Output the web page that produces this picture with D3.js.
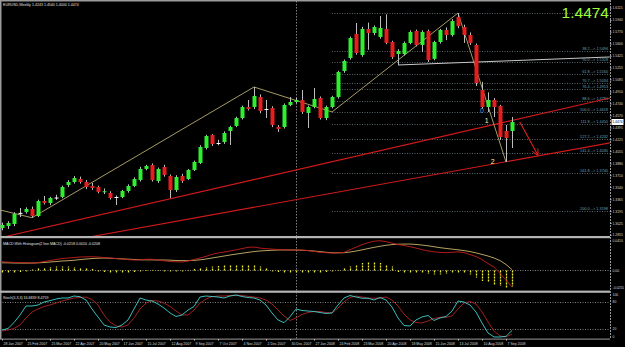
<!DOCTYPE html>
<html>
<head>
<meta charset="utf-8">
<script src="https://cdnjs.cloudflare.com/ajax/libs/d3/7.8.5/d3.min.js"></script>
<style>
body{margin:0;background:#000;overflow:hidden}
text{font-family:"Liberation Sans",Arial,sans-serif}
</style>
</head>
<body>
<script>
// EURUSD weekly, 28 Jan 2007 .. 14 Sep 2008, one bar per week

var opens =[1.2953,1.2982,1.3010,1.3170,1.3183,1.3226,1.3125,1.3340,1.3312,1.3390,1.3398,1.3570,1.3613,1.3656,1.3613,1.3556,1.3541,1.3470,1.3455,1.3398,
1.3398,1.3484,1.3556,1.3642,1.3800,1.3857,1.3627,1.3828,1.3699,1.3498,1.3699,1.3656,1.3785,1.3886,1.4101,1.4287,1.4173,1.4187,1.4345,1.4417,
1.4531,1.4689,1.4689,1.4833,1.4661,1.4675,1.4402,1.4402,1.4718,1.4761,1.4790,1.4603,1.4689,1.4818,1.4531,1.4689,1.4833,1.5206,1.5392,1.5737,
1.5435,1.5809,1.5751,1.5694,1.5809,1.5622,1.5450,1.5450,1.5608,1.5780,1.5579,1.5780,1.5380,1.5622,1.5794,1.5722,1.5981,1.5837,1.5722,1.5579,
1.4933,1.4689,1.4790,1.4704,1.4345,1.4345];
var highs =[1.3030,1.3050,1.3180,1.3240,1.3250,1.3260,1.3360,1.3412,1.3400,1.3430,1.3560,1.3640,1.3700,1.3690,1.3640,1.3600,1.3560,1.3520,1.3480,1.3420,
1.3500,1.3580,1.3680,1.3830,1.3860,1.3880,1.3820,1.3860,1.3720,1.3710,1.3730,1.3800,1.3920,1.4140,1.4290,1.4300,1.4220,1.4340,1.4420,1.4550,
1.4710,1.4790,1.4976,1.4870,1.4790,1.4700,1.4430,1.4740,1.4833,1.4820,1.4933,1.4710,1.4962,1.4840,1.4710,1.4850,1.5210,1.5370,1.5700,1.5895,
1.5840,1.5900,1.5860,1.5995,1.6019,1.5640,1.5520,1.5630,1.5790,1.5800,1.5790,1.5800,1.5640,1.5810,1.5830,1.5950,1.6038,1.5870,1.5760,1.5600,
1.5050,1.4900,1.4818,1.4720,1.4431,1.4546];
var lows  =[1.2920,1.2940,1.2980,1.3110,1.3160,1.3100,1.3110,1.3290,1.3280,1.3355,1.3380,1.3540,1.3590,1.3590,1.3510,1.3500,1.3450,1.3440,1.3360,1.3282,
1.3380,1.3460,1.3540,1.3620,1.3780,1.3620,1.3600,1.3690,1.3383,1.3470,1.3600,1.3640,1.3770,1.3870,1.4080,1.4130,1.4140,1.4160,1.4144,1.4400,
1.4510,1.4640,1.4660,1.4600,1.4531,1.4400,1.4331,1.4380,1.4700,1.4740,1.4590,1.4388,1.4670,1.4510,1.4500,1.4670,1.4810,1.5180,1.5370,1.5440,
1.5410,1.5510,1.5720,1.5670,1.5590,1.5380,1.5292,1.5430,1.5590,1.5560,1.5478,1.5335,1.5360,1.5600,1.5650,1.5700,1.5820,1.5608,1.5580,1.4990,
1.4660,1.4618,1.4545,1.4216,1.3900,1.4101];
var closes=[1.2996,1.3025,1.3154,1.3170,1.3226,1.3125,1.3340,1.3312,1.3383,1.3390,1.3541,1.3613,1.3670,1.3613,1.3541,1.3527,1.3470,1.3480,1.3383,1.3398,
1.3484,1.3556,1.3656,1.3800,1.3843,1.3642,1.3800,1.3714,1.3498,1.3685,1.3627,1.3785,1.3900,1.4115,1.4273,1.4158,1.4173,1.4316,1.4402,1.4531,
1.4689,1.4661,1.4847,1.4632,1.4661,1.4431,1.4374,1.4718,1.4761,1.4790,1.4618,1.4689,1.4804,1.4531,1.4689,1.4833,1.5192,1.5349,1.5679,1.5464,
1.5809,1.5751,1.5837,1.5823,1.5608,1.5407,1.5493,1.5608,1.5766,1.5579,1.5766,1.5364,1.5622,1.5794,1.5722,1.5923,1.5852,1.5722,1.5608,1.5034,
1.4689,1.4790,1.4689,1.4259,1.4244,1.4474];

var macdMain=[0.0113,0.0109,0.0105,0.0103,0.0102,0.0096,0.0103,0.0116,0.0129,0.0142,0.0155,0.0162,0.0168,0.0175,0.0177,0.0179,0.0175,0.0168,0.0162,0.0155,
0.0149,0.0141,0.0136,0.0138,0.0145,0.0146,0.0136,0.0126,0.0117,0.0113,0.0110,0.0123,0.0142,0.0162,0.0184,0.0210,0.0227,0.0240,0.0253,0.0268,
0.0285,0.0301,0.0305,0.0292,0.0284,0.0279,0.0272,0.0270,0.0266,0.0266,0.0266,0.0259,0.0248,0.0237,0.0231,0.0227,0.0229,0.0235,0.0271,0.0303,
0.0336,0.0362,0.0381,0.0387,0.0376,0.0357,0.0338,0.0325,0.0309,0.0292,0.0272,0.0255,0.0243,0.0235,0.0232,0.0237,0.0242,0.0233,0.0207,0.0181,
0.0142,0.0090,0.0044,-0.0040,-0.0125,-0.0218];
var macdSignal=[0.0100,0.0099,0.0097,0.0096,0.0096,0.0096,0.0099,0.0103,0.0110,0.0116,0.0123,0.0127,0.0133,0.0141,0.0149,0.0155,0.0160,0.0162,0.0159,0.0155,
0.0151,0.0147,0.0143,0.0139,0.0138,0.0138,0.0136,0.0136,0.0134,0.0130,0.0128,0.0128,0.0132,0.0138,0.0149,0.0162,0.0175,0.0188,0.0201,0.0213,
0.0224,0.0236,0.0246,0.0254,0.0259,0.0263,0.0266,0.0267,0.0267,0.0266,0.0263,0.0259,0.0253,0.0245,0.0237,0.0231,0.0230,0.0231,0.0240,0.0253,
0.0268,0.0285,0.0301,0.0315,0.0328,0.0337,0.0342,0.0344,0.0344,0.0339,0.0331,0.0321,0.0309,0.0297,0.0287,0.0278,0.0269,0.0259,0.0246,0.0229,
0.0209,0.0188,0.0162,0.0129,0.0077,0.0010];
var macdHist=[-0.0026,-0.0026,-0.0026,-0.0020,-0.0013,0.0013,0.0026,0.0039,0.0046,0.0052,0.0052,0.0052,0.0046,0.0039,0.0033,0.0020,-0.0013,-0.0020,-0.0026,-0.0026,
-0.0026,-0.0026,-0.0020,-0.0013,-0.0007,0.0007,-0.0007,-0.0013,-0.0013,-0.0013,-0.0013,0.0007,0.0020,0.0033,0.0046,0.0052,0.0059,0.0065,0.0072,0.0078,
0.0078,0.0072,0.0065,0.0052,0.0033,-0.0013,-0.0020,-0.0026,-0.0026,-0.0026,-0.0026,-0.0026,-0.0026,-0.0026,-0.0020,-0.0013,0.0007,0.0026,0.0052,0.0078,
0.0098,0.0104,0.0104,0.0098,0.0078,0.0052,-0.0020,-0.0026,-0.0033,-0.0039,-0.0039,-0.0046,-0.0052,-0.0052,-0.0046,-0.0039,-0.0033,-0.0039,-0.0052,-0.0091,
-0.0137,-0.0156,-0.0183,-0.0202,-0.0222,-0.0208];

var stochK=[17.6,20.9,34.0,50.5,70.3,70.3,72.5,79.1,82.0,85.7,87.9,87.9,92.3,90.8,83.5,63.7,46.2,28.6,24.2,23.1,
28.6,39.6,63.7,87.9,83.5,81.3,74.7,65.9,55.0,47.3,50.6,61.5,69.2,90.1,92.3,91.2,90.1,87.9,92.3,94.5,
91.2,89.0,87.9,83.5,72.5,55.0,39.6,33.6,46.8,63.7,60.4,59.3,58.2,56.0,53.9,55.0,72.5,87.9,93.4,90.1,
87.3,87.3,83.5,89.0,83.5,68.1,44.0,27.5,26.4,39.6,46.2,49.5,38.5,44.0,47.3,59.3,81.3,79.1,72.5,57.1,
33.0,11.0,2.2,2.2,3.7,16.6839];
var stochD=[15.4,17.6,20.9,28.6,44.0,57.1,63.7,69.2,72.5,76.9,81.3,84.6,87.9,89.0,90.1,84.6,72.5,50.6,35.2,26.4,
24.2,28.6,44.0,63.7,76.9,82.4,81.3,76.9,69.2,59.3,50.6,50.6,61.5,76.9,85.7,90.8,92.3,92.3,93.4,94.0,
93.4,91.7,90.1,87.9,83.5,74.7,61.5,48.4,38.5,44.0,51.7,56.0,58.2,58.2,56.0,55.0,65.9,79.1,89.0,92.3,
90.1,87.9,87.3,87.9,90.1,83.5,70.3,52.7,39.6,34.0,33.0,37.4,42.9,45.5,45.5,48.4,63.7,76.9,80.2,74.7,
57.1,35.2,15.4,4.4,2.2,8.4759];

var dateLabels=["28 Jan 2007","25 Feb 2007","25 Mar 2007","22 Apr 2007","20 May 2007","17 Jun 2007","15 Jul 2007","12 Aug 2007","9 Sep 2007","7 Oct 2007","4 Nov 2007",
"2 Dec 2007","30 Dec 2007","27 Jan 2008","24 Feb 2008","23 Mar 2008","20 Apr 2008","18 May 2008","15 Jun 2008","13 Jul 2008","10 Aug 2008","7 Sep 2008"];
var priceTicks=[1.6115,1.5940,1.5770,1.5600,1.5425,1.5255,1.5085,1.4910,1.4740,1.4570,1.4395,1.4225,1.4055,1.3880,1.3710,1.3540,1.3365,1.3195,1.3025,1.2855];

// drawn objects
var fibLevels=[0,38.2,50,61.8,70.7,76.4,88.6,100,111.8,127.2,141.4,161.8,200];
var fibHigh=1.6038, fibLow=1.4618, fibStartBar=55;
var zigBars=[-0.3,5,42,55,76,84];
var zigPrices=[1.3211,1.3100,1.4976,1.4618,1.6038,1.3900];
var chanBars=[0,85];
var chanUpper=[1.2819,1.4496];
var chanLower=[1.2597,1.3920];
var grayBars=[66,101.3];
var grayPrices=[1.5292,1.5407];
var arrowBars=[86.3,89.3];
var arrowPrices=[1.4474,1.4000];
var waveText=["0","1","2"];
var waveBars=[80,80.8,81.8];
var wavePrices=[1.4632,1.4488,1.3900];
var lastPrice=1.4474;

var width=625, height=347;
var right=610;
var main={top:2,bottom:236}, macdWin={top:239,bottom:290}, stochWin={top:293,bottom:338};
var small=3.6;

var x=d3.scaleLinear().domain([0,85]).range([2,512]);
var y=d3.scaleLinear().domain([1.2838,1.6196]).range([main.bottom,main.top]);
var yM=d3.scaleLinear().domain([-0.0255,0.0410]).range([macdWin.bottom,macdWin.top]);
var yS=d3.scaleLinear().domain([0,100]).range([stochWin.bottom,292.5]);

var svg=d3.select("body").append("svg").attr("width",width).attr("height",height);
svg.append("rect").attr("width",width).attr("height",height).attr("fill","#000");

var defs=svg.append("defs");
defs.append("clipPath").attr("id","clipMain").append("rect")
  .attr("x",0).attr("y",main.top).attr("width",right).attr("height",main.bottom-main.top);
defs.append("marker").attr("id","arrow").attr("viewBox","0 0 10 10").attr("refX",9).attr("refY",5)
  .attr("markerWidth",6).attr("markerHeight",6).attr("orient","auto")
  .append("path").attr("d","M0,0L10,5L0,10").attr("fill","none").attr("stroke","#e02020").attr("stroke-width",1.5);

// frame and window separators
svg.append("rect").attr("x",0).attr("y",0).attr("width",right).attr("height",1.5).attr("fill","#9a9a9a");
svg.append("rect").attr("x",0).attr("y",0).attr("width",1.5).attr("height",339).attr("fill","#9a9a9a");
svg.append("rect").attr("x",0).attr("y",236).attr("width",right).attr("height",2.2).attr("fill","#b4b4b4");
svg.append("rect").attr("x",0).attr("y",290.6).attr("width",right).attr("height",2.2).attr("fill","#b4b4b4");
svg.append("rect").attr("x",0).attr("y",338.6).attr("width",right).attr("height",1).attr("fill","#9a9a9a");

// year separator (first bar of 2008)
svg.append("line").attr("x1",x(49)+0.5).attr("x2",x(49)+0.5).attr("y1",1).attr("y2",339)
  .attr("stroke","#a0a0a0").attr("stroke-width",0.8).attr("stroke-dasharray","1.5,1.5");

var g=svg.append("g").attr("clip-path","url(#clipMain)");

// fibonacci levels
var fibPrice=function(l){return fibHigh-(fibHigh-fibLow)*l/100;};
g.selectAll(".fib").data(fibLevels).enter().append("line")
  .attr("x1",x(fibStartBar)).attr("x2",right)
  .attr("y1",function(d){return Math.round(y(fibPrice(d)))+0.5;})
  .attr("y2",function(d){return Math.round(y(fibPrice(d)))+0.5;})
  .attr("stroke","#6b7f86").attr("stroke-width",0.8).attr("stroke-dasharray","1,1.5");
g.selectAll(".fibt").data(fibLevels.filter(function(d){return d>0;})).enter().append("text")
  .attr("x",right-2).attr("y",function(d){return y(fibPrice(d))-1;})
  .attr("text-anchor","end").attr("font-size",3.8).attr("fill","#6fa0a8")
  .text(function(d){return d.toFixed(1)+" --> "+fibPrice(d).toFixed(4);});

// trend lines
function ext(bars,prices,toBar){
  var s=(prices[1]-prices[0])/(bars[1]-bars[0]);
  return [[bars[0],prices[0]],[toBar,prices[0]+s*(toBar-bars[0])]];
}
var line=d3.line().x(function(d){return x(d[0]);}).y(function(d){return y(d[1]);});
g.append("path").attr("d",line(ext(chanBars,chanUpper,101.4))).attr("stroke","#d01a1a").attr("stroke-width",1.1).attr("fill","none");
g.append("path").attr("d",line(ext(chanBars,chanLower,101.4))).attr("stroke","#d01a1a").attr("stroke-width",1.1).attr("fill","none");
g.append("path").attr("d",line(d3.zip(grayBars,grayPrices))).attr("stroke","#c8c8c8").attr("stroke-width",1).attr("fill","none");
g.append("path").attr("d",line(d3.zip(zigBars,zigPrices))).attr("stroke","#cfc27e").attr("stroke-width",0.8).attr("fill","none");

// candles
var idx=d3.range(opens.length);
g.selectAll(".wick").data(idx).enter().append("line")
  .attr("x1",function(i){return x(i)+0.5;}).attr("x2",function(i){return x(i)+0.5;})
  .attr("y1",function(i){return y(highs[i]);}).attr("y2",function(i){return y(lows[i]);})
  .attr("stroke","#bdbdbd").attr("stroke-width",1);
g.selectAll(".body").data(idx).enter().append("rect")
  .attr("x",function(i){return x(i)-1.5;}).attr("width",4)
  .attr("y",function(i){return y(Math.max(opens[i],closes[i]));})
  .attr("height",function(i){return Math.max(1,Math.abs(y(opens[i])-y(closes[i])));})
  .attr("fill",function(i){return closes[i]>opens[i]?"#2ef02e":(closes[i]<opens[i]?"#e61e1e":"#ffffff");});

// arrow and wave labels
g.append("path").attr("d",line(d3.zip(arrowBars,arrowPrices))).attr("stroke","#e02020").attr("stroke-width",1.1)
  .attr("fill","none").attr("marker-end","url(#arrow)");
g.selectAll(".wave").data(waveText).enter().append("text")
  .attr("x",function(d,j){return x(waveBars[j]);}).attr("y",function(d,j){return y(wavePrices[j])+2;})
  .attr("text-anchor","middle").attr("font-size",7)
  .attr("fill",function(d,j){return j==0?"#4a9cc8":"#f4f0a0";}).text(function(d){return d;});

// headers
svg.append("text").attr("x",3).attr("y",6).attr("font-size",small).attr("fill","#e0e0e0")
  .text("EURUSD,Weekly  1.4243 1.4540 1.4000 1.4474");
svg.append("text").attr("x",609).attr("y",18).attr("text-anchor","end")
  .attr("font-size",15.5).attr("fill","#9cff3a")
  .text(lastPrice.toFixed(4));

// price axis
var yAxis=d3.axisRight(y).tickValues(priceTicks).tickSize(1.5).tickFormat(d3.format(".4f"));
var ax=svg.append("g").attr("transform","translate("+right+",0)").call(yAxis);
ax.select(".domain").remove();
ax.selectAll("line").attr("stroke","#c0c0c0");
ax.selectAll("text").attr("font-size",3.4).attr("fill","#d8d8d8").attr("x",2.5);
svg.append("line").attr("x1",right+0.5).attr("x2",right+0.5).attr("y1",0).attr("y2",339)
  .attr("stroke","#c0c0c0").attr("stroke-width",0.8).attr("stroke-dasharray","2,1");
svg.append("rect").attr("x",right+1.5).attr("y",y(lastPrice)-3).attr("width",12).attr("height",6).attr("fill","#fff");
svg.append("text").attr("x",right+2.3).attr("y",y(lastPrice)+1.3).attr("font-size",3.4).attr("fill","#000").text(lastPrice.toFixed(4));

// MACD window
svg.append("line").attr("x1",0).attr("x2",right).attr("y1",Math.round(yM(0))+0.5).attr("y2",Math.round(yM(0))+0.5)
  .attr("stroke","#a0a0a0").attr("stroke-width",0.8).attr("stroke-dasharray","1,1.5");
svg.selectAll(".hist").data(idx).enter().append("line")
  .attr("x1",function(i){return x(i)+0.5;}).attr("x2",function(i){return x(i)+0.5;})
  .attr("y1",yM(0)).attr("y2",function(i){return yM(macdHist[i]);})
  .attr("stroke","#f0ee30").attr("stroke-width",1.3).attr("stroke-dasharray","2,1");
var lineM=function(arr){return d3.line().x(function(d,i){return x(i);}).y(function(d){return yM(d);})(arr);};
svg.append("path").attr("d",lineM(macdSignal)).attr("stroke","#c8b46a").attr("stroke-width",0.9).attr("fill","none");
svg.append("path").attr("d",lineM(macdMain)).attr("stroke","#c41e1e").attr("stroke-width",0.9).attr("fill","none");
svg.append("text").attr("x",3).attr("y",244.5).attr("font-size",small).attr("fill","#e0e0e0")
  .text("MACD With Histogram(2 line MACD) "+macdMain[85].toFixed(4)+" "+macdSignal[85].toFixed(4)+" "+macdHist[85].toFixed(4));
var mLabels=[[yM.domain()[1],macdWin.top+2.5],[0,yM(0)+1.3],[yM.domain()[0],macdWin.bottom-1]];
svg.selectAll(".ml").data(mLabels).enter().append("text").attr("x",right+2.5).attr("y",function(d){return d[1];})
  .attr("font-size",3.4).attr("fill","#d8d8d8").text(function(d){return d[0]==0?"0.00":d[0].toFixed(4);});

// Stochastic window
[80,20].forEach(function(l){
  svg.append("line").attr("x1",0).attr("x2",right).attr("y1",Math.round(yS(l))+0.5).attr("y2",Math.round(yS(l))+0.5)
    .attr("stroke","#a0a0a0").attr("stroke-width",0.8).attr("stroke-dasharray","1,1.5");
});
var lineS=function(arr){return d3.line().x(function(d,i){return x(i);}).y(function(d){return yS(d);})(arr);};
svg.append("path").attr("d",lineS(stochD)).attr("stroke","#b02424").attr("stroke-width",0.9).attr("fill","none");
svg.append("path").attr("d",lineS(stochK)).attr("stroke","#3fd3d0").attr("stroke-width",0.9).attr("fill","none");
svg.append("text").attr("x",3).attr("y",298.5).attr("font-size",small).attr("fill","#e0e0e0")
  .text("Stoch(5,3,3) "+stochK[85].toFixed(4)+" "+stochD[85].toFixed(4));
svg.selectAll(".sl").data([100,80,20,0]).enter().append("text").attr("x",right+2.5)
  .attr("y",function(d){return d==100?295.5:(d==0?337.5:yS(d)+1.3);})
  .attr("font-size",3.4).attr("fill","#d8d8d8").text(function(d){return d;});

// date axis
var xAxis=d3.axisBottom(x).tickValues(dateLabels.map(function(d,j){return j*4;}))
  .tickSize(1.5).tickFormat(function(d,j){return dateLabels[j];});
var bx=svg.append("g").attr("transform","translate(0,339)").call(xAxis);
bx.select(".domain").remove();
bx.selectAll("line").attr("stroke","#c0c0c0");
bx.selectAll("text").attr("font-size",3.5).attr("fill","#d8d8d8").attr("text-anchor","start").attr("dy",0).attr("x",1).attr("y",5.5);
</script>
</body>
</html>
